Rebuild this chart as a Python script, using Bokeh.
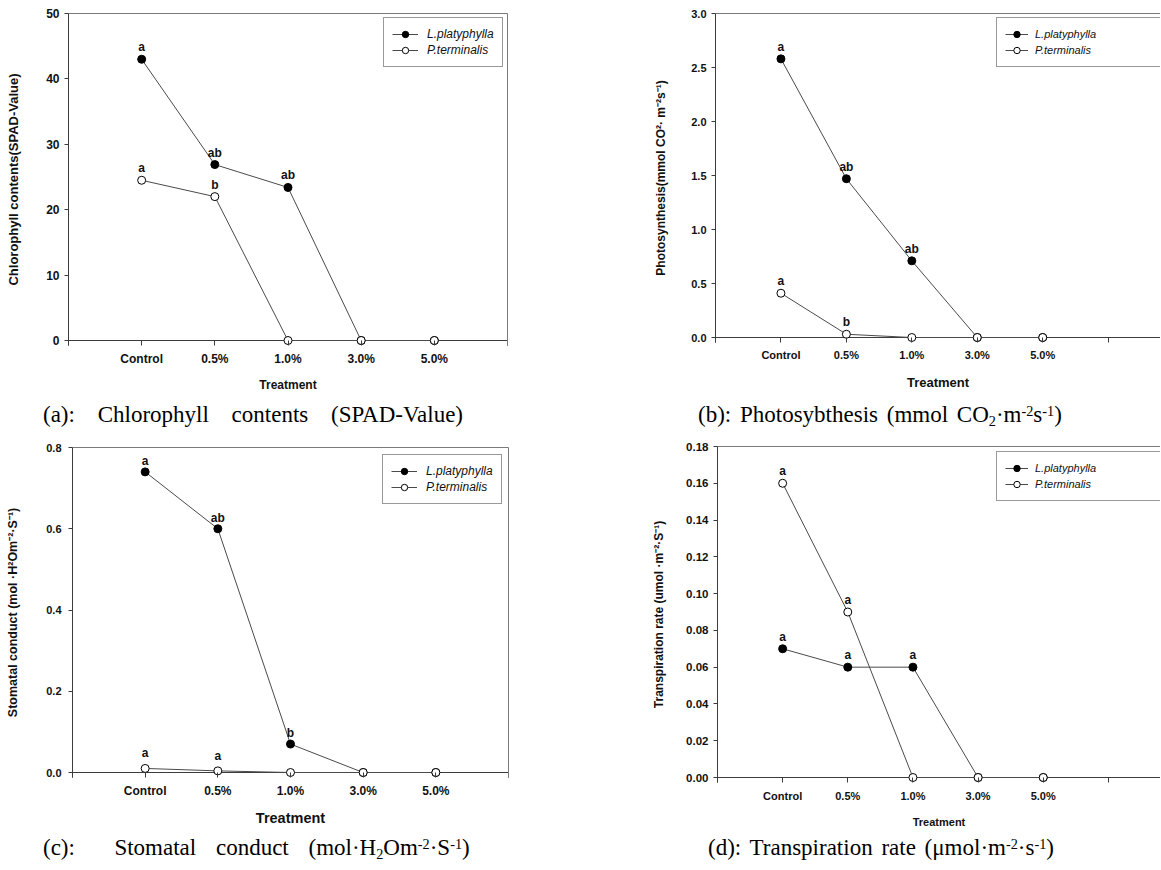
from bokeh.plotting import figure
from bokeh.models import (Range1d, FixedTicker, PrintfTickFormatter, LinearAxis, Span,
                          Legend, LegendItem, Div)
from bokeh.layouts import column, row
from bokeh.core.properties import value
from bokeh.embed import file_html
from bokeh.resources import INLINE

# ---------------- data ----------------
treatments = ["Control", "0.5%", "1.0%", "3.0%", "5.0%"]
series_names = ["L.platyphylla", "P.terminalis"]

# (a) Chlorophyll contents (SPAD)
chl_lp = [43.0, 26.9, 23.4, 0.0, 0.0]
chl_pt = [24.5, 22.0, 0.0, 0.0, 0.0]
chl_lp_letters = ["a", "ab", "ab", "", ""]
chl_pt_letters = ["a", "b", "", "", ""]
chl_ticks = [0, 10, 20, 30, 40, 50]

# (b) Photosynthesis
ps_lp = [2.58, 1.47, 0.71, 0.0, 0.0]
ps_pt = [0.41, 0.03, 0.0, 0.0, 0.0]
ps_lp_letters = ["a", "ab", "ab", "", ""]
ps_pt_letters = ["a", "b", "", "", ""]
ps_ticks = [0.0, 0.5, 1.0, 1.5, 2.0, 2.5, 3.0]

# (c) Stomatal conductance
sc_lp = [0.74, 0.60, 0.07, 0.0, 0.0]
sc_pt = [0.010, 0.004, 0.0, 0.0, 0.0]
sc_lp_letters = ["a", "ab", "b", "", ""]
sc_pt_letters = ["a", "a", "", "", ""]
sc_ticks = [0.0, 0.2, 0.4, 0.6, 0.8]

# (d) Transpiration rate
tr_lp = [0.07, 0.06, 0.06, 0.0, 0.0]
tr_pt = [0.16, 0.09, 0.0, 0.0, 0.0]
tr_lp_letters = ["a", "a", "a", "", ""]
tr_pt_letters = ["a", "a", "", "", ""]
tr_ticks = [0.00, 0.02, 0.04, 0.06, 0.08, 0.10, 0.12, 0.14, 0.16, 0.18]

ylabels = [
    "Chlorophyll contents(SPAD-Value)",
    "Photosynthesis(mmol CO²· m⁻²s⁻¹)",
    "Stomatal conduct (mol ·H²Om⁻²·S⁻¹)",
    "Transpiration rate (umol ·m⁻²·S⁻¹)",
]
xlabel = "Treatment"

captions = [
    '(a): Chlorophyll contents (SPAD-Value)',
    '(b): Photosybthesis (mmol CO<span class="sb">2</span>·m<span class="sp">-2</span>s<span class="sp">-1</span>)',
    '(c):&nbsp; Stomatal conduct (mol·H<span class="sb">2</span>Om<span class="sp">-2</span>·S<span class="sp">-1</span>)',
    '(d): Transpiration rate (μmol·m<span class="sp">-2</span>·s<span class="sp">-1</span>)',
]

# ---------------- style ----------------
SANS = "Liberation Sans"
SERIF = "Liberation Serif"
AXC = "#3c3c3c"
EDGE = "#7a7a7a"
LINEC = "#4a4a4a"
TXT = "#111111"
DELTA = 5  # px of frame below the zero line (so markers at 0 are not clipped)


def make_panel(lp, pt, lp_let, pt_let, yticks, yfmt, ylabel, g):
    ymax = yticks[-1]
    ystart = -ymax * DELTA / g["fh"]
    p = figure(width=g["w"], height=g["h"],
               x_range=Range1d(0, g["xmax"]), y_range=Range1d(ystart, ymax),
               min_border_left=g["bl"], min_border_right=g["w"] - g["bl"] - g["fw"],
               min_border_top=g["bt"], min_border_bottom=g["h"] - g["bt"] - g["fh"] - DELTA,
               output_backend="svg", toolbar_location=None, outline_line_color=None,
               background_fill_color="white", border_fill_color="white")
    p.grid.visible = False

    # zero line (the visible x axis line)
    p.add_layout(Span(location=0, dimension="width", line_color=AXC, line_width=1, level="underlay"))

    # x axis
    xa = p.xaxis[0]
    xa.ticker = FixedTicker(ticks=list(range(0, 7)))
    ov = {0: "", 6: ""}
    for i, t in enumerate(treatments):
        ov[i + 1] = t
    xa.major_label_overrides = ov
    xa.axis_line_color = None
    xa.major_tick_in = DELTA
    xa.major_tick_out = 0
    xa.minor_tick_line_color = None
    xa.major_tick_line_color = AXC
    xa.major_label_standoff = g["xls"]
    xa.major_label_text_font = SANS
    xa.major_label_text_font_style = "bold"
    xa.major_label_text_font_size = g["xfs"]
    xa.major_label_text_color = TXT
    xa.axis_label = xlabel
    xa.axis_label_text_font = SANS
    xa.axis_label_text_font_style = "bold"
    xa.axis_label_text_font_size = g["xafs"]
    xa.axis_label_text_color = TXT
    xa.axis_label_standoff = g["xas"]

    # y axis
    ya = p.yaxis[0]
    ya.ticker = FixedTicker(ticks=yticks)
    ya.formatter = PrintfTickFormatter(format=yfmt)
    ya.axis_line_color = AXC
    ya.major_tick_line_color = AXC
    ya.major_tick_in = 0
    ya.major_tick_out = 4
    ya.minor_tick_line_color = None
    ya.major_label_standoff = g["yls"]
    ya.major_label_text_font = SANS
    ya.major_label_text_font_style = "bold"
    ya.major_label_text_font_size = g["yfs"]
    ya.major_label_text_color = TXT
    ya.axis_label = ylabel
    ya.axis_label_text_font = SANS
    ya.axis_label_text_font_style = "bold"
    ya.axis_label_text_font_size = g["yafs"]
    ya.axis_label_text_color = TXT
    ya.axis_label_standoff = g["yas"]

    # top border line
    top = LinearAxis(ticker=FixedTicker(ticks=[]), axis_line_color=EDGE,
                     major_tick_line_color=None, minor_tick_line_color=None,
                     major_label_text_font_size="0px")
    p.add_layout(top, "above")
    if g["right_edge"]:
        rt = LinearAxis(ticker=FixedTicker(ticks=[]), axis_line_color=EDGE,
                        major_tick_line_color=None, minor_tick_line_color=None,
                        major_label_text_font_size="0px")
        p.add_layout(rt, "right")

    xs = list(range(1, len(treatments) + 1))
    l1 = p.line(xs, lp, line_color=LINEC, line_width=1)
    s1 = p.scatter(xs, lp, size=8, marker="circle", fill_color="black", line_color="black", line_width=1)
    l2 = p.line(xs, pt, line_color=LINEC, line_width=1)
    s2 = p.scatter(xs, pt, size=8, marker="circle", fill_color="white", line_color="black", line_width=1)

    p.text(xs, lp, text=lp_let, text_font=value(SANS), text_font_style="bold",
           text_font_size=g["lfs"], text_align="center", text_baseline="middle",
           y_offset=g["off_lp"], text_color=TXT)
    p.text(xs, pt, text=pt_let, text_font=value(SANS), text_font_style="bold",
           text_font_size=g["lfs"], text_align="center", text_baseline="middle",
           y_offset=g["off_pt"], text_color=TXT)

    leg = Legend(items=[LegendItem(label=series_names[0], renderers=[l1, s1]),
                        LegendItem(label=series_names[1], renderers=[l2, s2])],
                 location=g["leg"], orientation="vertical", margin=0,
                 padding=8, spacing=0, glyph_width=g["gw"], glyph_height=16, label_height=16,
                 label_standoff=g["lso"], label_width=g["lw"],
                 label_text_font=SANS, label_text_font_style="italic",
                 label_text_font_size=g["legfs"], label_text_color=TXT,
                 border_line_color="#333333", border_line_width=1,
                 background_fill_color="white", background_fill_alpha=1.0)
    p.add_layout(leg)
    return p


def caption(html, w, h, pad, ws):
    style = ("font-family:'Liberation Serif',serif;font-size:23px;line-height:%dpx;"
             "padding-left:%dpx;white-space:nowrap;word-spacing:%dpx;color:#000;") % (h, pad, ws)
    css = ("<style>.sp{position:relative;top:-0.45em;font-size:0.62em;}"
           ".sb{position:relative;top:0.25em;font-size:0.62em;}</style>")
    return Div(text=css + '<div style="%s">%s</div>' % (style, html), width=w, height=h, margin=0)


GA = dict(w=578, h=392, bl=66, bt=5, fw=439, fh=327, xmax=6, right_edge=True,
          xls=6, xfs="12px", xafs="12px", xas=9, yls=5, yfs="12px", yafs="13px", yas=22,
          lfs="12px", off_lp=-12, off_pt=-12, leg=(315, 278), gw=26, lso=9, lw=20, legfs="12px")
GB = dict(w=580, h=392, bl=135, bt=5, fw=445, fh=324, xmax=6.8, right_edge=False,
          xls=6, xfs="11px", xafs="13px", xas=11, yls=5, yfs="11px", yafs="12px", yas=20,
          lfs="12px", off_lp=-12, off_pt=-12, leg=(281, 275), gw=23, lso=7, lw=200, legfs="11px")
GC = dict(w=578, h=404, bl=70, bt=17, fw=436, fh=325, xmax=6, right_edge=True,
          xls=6, xfs="12px", xafs="14.5px", xas=9, yls=7, yfs="11px", yafs="12.5px", yas=23,
          lfs="12px", off_lp=-11, off_pt=-15, leg=(310, 273), gw=26, lso=9, lw=20, legfs="12px")
GD = dict(w=580, h=404, bl=137, bt=16, fw=443, fh=331, xmax=6.8, right_edge=False,
          xls=7, xfs="11px", xafs="11px", xas=11, yls=5, yfs="11.5px", yafs="12px", yas=17,
          lfs="12px", off_lp=-12, off_pt=-12, leg=(279, 281), gw=23, lso=7, lw=200, legfs="11px")

pa = make_panel(chl_lp, chl_pt, chl_lp_letters, chl_pt_letters, chl_ticks, "%d", ylabels[0], GA)
pb = make_panel(ps_lp, ps_pt, ps_lp_letters, ps_pt_letters, ps_ticks, "%.1f", ylabels[1], GB)
pc = make_panel(sc_lp, sc_pt, sc_lp_letters, sc_pt_letters, sc_ticks, "%.1f", ylabels[2], GC)
pd = make_panel(tr_lp, tr_pt, tr_lp_letters, tr_pt_letters, tr_ticks, "%.2f", ylabels[3], GD)

da = caption(captions[0], 578, 30, 41, 17)
db = caption(captions[1], 580, 30, 118, 3)
dc = caption(captions[2], 578, 28, 41, 14)
dd = caption(captions[3], 580, 28, 128, 3)

layout = column(row(column(pa, da), column(pb, db)),
                row(column(pc, dc), column(pd, dd)),
                margin=(8, 0, 0, 2))

open("out.html", "w").write(file_html(layout, INLINE))
